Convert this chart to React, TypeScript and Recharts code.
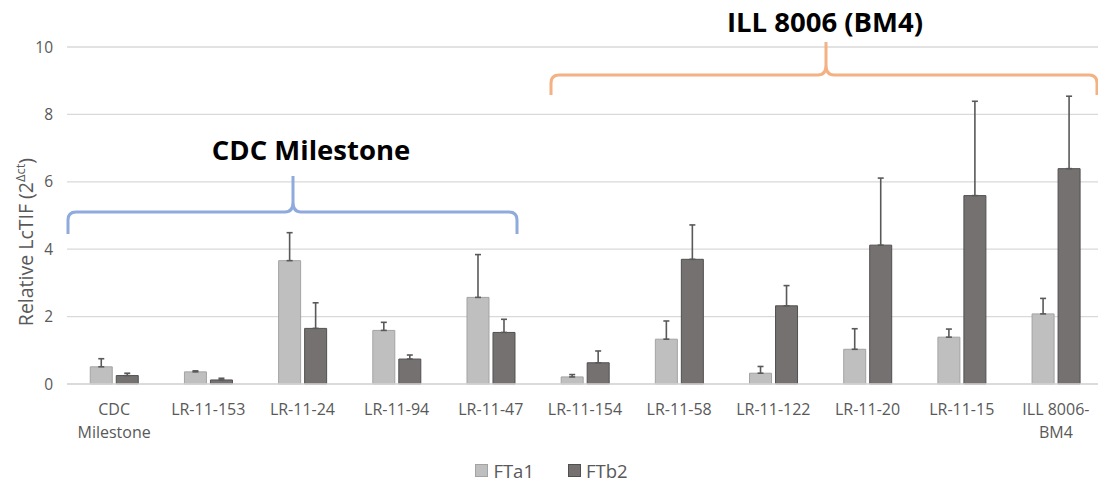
import { BarChart, Bar, XAxis, YAxis, CartesianGrid, Legend, ErrorBar } from 'recharts';

const categories = [
  'CDC Milestone', 'LR-11-153', 'LR-11-24', 'LR-11-94', 'LR-11-47',
  'LR-11-154', 'LR-11-58', 'LR-11-122', 'LR-11-20', 'LR-11-15', 'ILL 8006-BM4',
];
const fta1 = [0.51, 0.36, 3.66, 1.59, 2.57, 0.21, 1.33, 0.32, 1.03, 1.39, 2.08];
const fta1Err = [0.24, 0.03, 0.83, 0.24, 1.27, 0.07, 0.54, 0.2, 0.61, 0.24, 0.46];
const ftb2 = [0.25, 0.12, 1.65, 0.74, 1.53, 0.63, 3.7, 2.32, 4.12, 5.59, 6.39];
const ftb2Err = [0.07, 0.05, 0.76, 0.12, 0.39, 0.35, 1.02, 0.6, 1.99, 2.8, 2.15];
const yTicks = [0, 2, 4, 6, 8, 10];

const data = categories.map((name, i) => ({
  name,
  FTa1: fta1[i],
  FTb2: ftb2[i],
  errA: [0, fta1Err[i]],
  errB: [0, ftb2Err[i]],
}));

const FONT = '"Open Sans", sans-serif';
const GREY_TEXT = '#595959';
const COLORS = { FTa1: '#bfbfbf', FTb2: '#767171' };
const BORDERS = { FTa1: '#a3a3a3', FTb2: '#505050' };

// excel-style wrapping for the two long category names
const wrapLabel = (s: string) => {
  if (s.length <= 10) return [s];
  const cut = s.lastIndexOf('-');
  if (cut > 0 && cut < s.length - 1) return [s.slice(0, cut + 1), s.slice(cut + 1)];
  const sp = s.indexOf(' ');
  return [s.slice(0, sp), s.slice(sp + 1)];
};

const XTick = ({ x, y, payload }: any) => {
  const lines = wrapLabel(payload.value);
  return (
    <text x={x} y={y} textAnchor="middle" fill={GREY_TEXT} fontSize={16} fontFamily={FONT}>
      {lines.map((l, i) => (
        <tspan key={i} x={x} dy={i === 0 ? 31 : 23}>{l}</tspan>
      ))}
    </text>
  );
};

const YLabel = () => (
  <text
    x={33}
    y={242}
    transform="rotate(-90 33 242)"
    textAnchor="middle"
    fill={GREY_TEXT}
    fontSize={19.5}
    fontFamily={FONT}
  >
    Relative LcTIF (2
    <tspan dy={-8} fontSize={13}>Δct</tspan>
    <tspan dy={8}>)</tspan>
  </text>
);

const LegendContent = () => (
  <div
    style={{
      display: 'flex',
      justifyContent: 'center',
      alignItems: 'center',
      gap: 34,
      height: 24,
      fontFamily: FONT,
      fontSize: 18.5,
      color: GREY_TEXT,
    }}
  >
    {(['FTa1', 'FTb2'] as const).map((k) => (
      <div key={k} style={{ display: 'flex', alignItems: 'center' }}>
        <span
          style={{
            width: 11,
            height: 11,
            background: COLORS[k],
            border: `1px solid ${BORDERS[k]}`,
            marginRight: 5,
          }}
        />
        {k}
      </div>
    ))}
  </div>
);

// hand-drawn curly braces + group titles on top of the chart
const Annotations = () => (
  <svg
    width={1098}
    height={484}
    style={{ position: 'absolute', left: 0, top: 0, pointerEvents: 'none' }}
  >
    <path
      d="M68 234 L68 220 Q68 212 76 212 L285 212 Q293 212 293 202 L293 176 M293 202 Q293 212 301 212 L509 212 Q517 212 517 220 L517 234"
      fill="none"
      stroke="#8faadc"
      strokeWidth={3}
    />
    <path
      d="M551 95 L551 83 Q551 75 559 75 L818 75 Q826 75 826 65 L826 42 M826 65 Q826 75 834 75 L1089 75 Q1097 75 1097 83 L1097 95"
      fill="none"
      stroke="#f4b183"
      strokeWidth={3}
    />
    <text x={311} y={160} textAnchor="middle" fontFamily={FONT} fontWeight={700} fontSize={27.5} fill="#000">
      CDC Milestone
    </text>
    <text x={825} y={32} textAnchor="middle" fontFamily={FONT} fontWeight={700} fontSize={27.5} fill="#000">
      ILL 8006 (BM4)
    </text>
  </svg>
);

export default function App() {
  return (
    <div
      style={{
        position: 'fixed',
        left: 0,
        top: 0,
        width: 1098,
        height: 484,
        overflow: 'hidden',
        background: '#fff',
      }}
    >
      <BarChart
        width={1104}
        height={484}
        data={data}
        margin={{ top: 47, right: 1, left: 0, bottom: 2 }}
        barCategoryGap="24.7%"
        barGap={4}
      >
        <CartesianGrid vertical={false} stroke="#d9d9d9" strokeWidth={1.3} />
        <XAxis
          dataKey="name"
          interval={0}
          height={74}
          tickLine={false}
          tickSize={0}
          tickMargin={0}
          axisLine={{ stroke: '#d9d9d9', strokeWidth: 1.3 }}
          tick={<XTick />}
        />
        <YAxis
          width={67}
          domain={[0, 10]}
          ticks={yTicks}
          axisLine={false}
          tickLine={false}
          tickSize={0}
          tickMargin={14}
          tick={{ fill: GREY_TEXT, fontSize: 15.5, fontFamily: FONT }}
          label={<YLabel />}
        />
        <Legend verticalAlign="bottom" content={<LegendContent />} />
        <Bar dataKey="FTa1" fill={COLORS.FTa1} stroke={BORDERS.FTa1} strokeWidth={1} isAnimationActive={false}>
          <ErrorBar dataKey="errA" direction="y" width={3} stroke="#595959" strokeWidth={1.6} />
        </Bar>
        <Bar dataKey="FTb2" fill={COLORS.FTb2} stroke={BORDERS.FTb2} strokeWidth={1} isAnimationActive={false}>
          <ErrorBar dataKey="errB" direction="y" width={3} stroke="#595959" strokeWidth={1.6} />
        </Bar>
      </BarChart>
      <Annotations />
    </div>
  );
}
